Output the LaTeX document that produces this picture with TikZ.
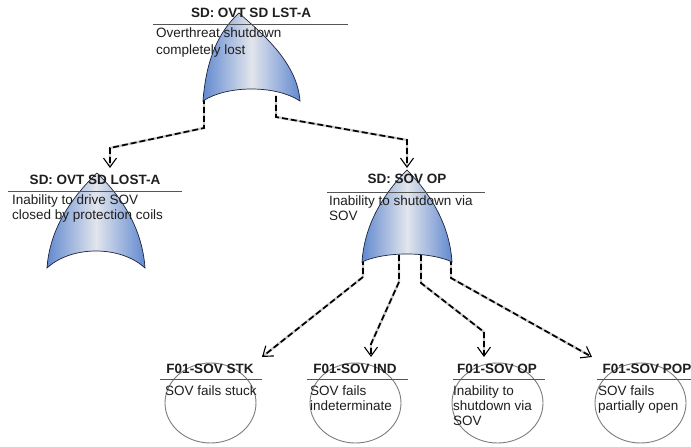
\documentclass[tikz,border=0pt]{standalone}
\usepackage{fontspec}
\setmainfont{Liberation Sans}
\usetikzlibrary{arrows.meta,shapes.geometric}
\definecolor{gateblue}{RGB}{98,138,208}
\definecolor{gatelight}{RGB}{226,229,236}
\definecolor{gateline}{RGB}{30,35,60}
\definecolor{txt}{RGB}{30,30,30}
\definecolor{rulegray}{RGB}{85,85,85}
\definecolor{circgray}{RGB}{125,125,125}
\tikzset{
  ttl/.style={font=\fontsize{13.5bp}{15bp}\selectfont\bfseries, text=txt, inner sep=0pt, anchor=base},
  dsc/.style={font=\fontsize{13.5bp}{15bp}\selectfont, text=txt, inner sep=0pt, anchor=base west},
  rul/.style={draw=rulegray, line width=0.8bp},
  evt/.style={draw=circgray, line width=0.9bp, ellipse, minimum width=91bp, minimum height=80bp, inner sep=0pt},
  connbg/.style={draw=gray!40, line width=2.4bp},
  conn/.style={draw=black, line width=1.7bp, dash pattern=on 6bp off 3bp,
    -{Straight Barb[length=9bp,width=13bp,line width=1.1bp]}},
}
\newcommand{\txtlines}[1]{\begin{tabular}[t]{@{}l@{}}#1\end{tabular}}
\newcommand{\orgate}[7]{% name, xa, ya, xl, xr, yb, sag
  \pgfmathsetmacro\gw{#5-#4}\pgfmathsetmacro\gh{#6-#3}
  \shadedraw[left color=gateblue, right color=gateblue, middle color=gatelight, draw=gateline, line width=0.7bp]
    (#4,#6) .. controls ({#4+0.03*\gw},{#6-0.45*\gh}) and ({#2-0.22*\gw},{#3+0.22*\gh}) .. (#2,#3)
    .. controls ({#2+0.22*\gw},{#3+0.22*\gh}) and ({#5-0.03*\gw},{#6-0.45*\gh}) .. (#5,#6)
    .. controls ({#4+0.75*\gw},{#6-4/3*#7}) and ({#4+0.25*\gw},{#6-4/3*#7}) .. cycle;
  \coordinate (#1) at (#2,#3);
}
\begin{document}
\begin{tikzpicture}[x=1bp,y=-1bp]
\useasboundingbox (0,0) rectangle (691,447);
\fill[white] (0,0) rectangle (691,447);

% gate output / input points
\coordinate (g0a) at (204,98);
\coordinate (g0b) at (276,96);
\coordinate (g0aj) at (204,128);
\coordinate (g0ak) at (110,148);
\coordinate (g1in) at (110,168);
\coordinate (g0bj) at (276,117);
\coordinate (g0bk) at (407,140);
\coordinate (g2in) at (407,168);

\coordinate (g2a) at (363,259);
\coordinate (g2b) at (399,255);
\coordinate (g2c) at (421,255);
\coordinate (g2d) at (451,259);
\coordinate (g2aj) at (363,277);
\coordinate (g2bj) at (399,282);
\coordinate (g2bk) at (371,344);
\coordinate (g2cj) at (421,283);
\coordinate (g2ck) at (484,332);
\coordinate (g2dj) at (451,278);
\coordinate (e1in) at (262,357);
\coordinate (e2in) at (371,357);
\coordinate (e3in) at (484,357);
\coordinate (e4in) at (592,357);

% connectors
\foreach \p in {
  {(g0a) -- (g0aj) -- (g0ak) -- (g1in)},
  {(g0b) -- (g0bj) -- (g0bk) -- (g2in)},
  {(g2a) -- (g2aj) -- (e1in)},
  {(g2b) -- (g2bj) -- (g2bk) -- (e2in)},
  {(g2c) -- (g2cj) -- (g2ck) -- (e3in)},
  {(g2d) -- (g2dj) -- (e4in)}}{
  \draw[connbg, shorten >=3bp] \p;
}
\draw[conn] (g0a) -- (g0aj) -- (g0ak) -- (g1in);
\draw[conn] (g0b) -- (g0bj) -- (g0bk) -- (g2in);
\draw[conn] (g2a) -- (g2aj) -- (e1in);
\draw[conn] (g2b) -- (g2bj) -- (g2bk) -- (e2in);
\draw[conn] (g2c) -- (g2cj) -- (g2ck) -- (e3in);
\draw[conn] (g2d) -- (g2dj) -- (e4in);

% gates
\orgate{g0}{239}{13}{203}{300}{101}{12}
\orgate{g1}{97}{173}{47}{145}{268}{17}
\orgate{g2}{407}{170}{362}{452}{262}{8}

% basic events
\node[evt] (e1) at (210.5,403) {};
\node[evt] (e2) at (355.5,403) {};
\node[evt] (e3) at (497.5,403) {};
\node[evt] (e4) at (640.5,403) {};

% texts
\node[ttl] (t0) at (251,18) {SD: OVT SD LST-A};
\draw[rul] (153,24) -- (348,24);
\node[dsc] (d0) at (156,38) {\txtlines{Overthreat shutdown\\[2bp]completely lost}};

\node[ttl] (t1) at (95,185) {SD: OVT SD LOST-A};
\draw[rul] (8,191) -- (182,191);
\node[dsc] (d1) at (12,205) {\txtlines{Inability to drive SOV\\closed by protection coils}};

\node[ttl] (t2) at (407,184) {SD: SOV OP};
\draw[rul] (327,192) -- (485,192);
\node[dsc] (d2) at (329,206) {\txtlines{Inability to shutdown via\\SOV}};

\node[ttl] (t3) at (210,373) {F01-SOV STK};
\draw[rul] (160,379) -- (262,379);
\node[dsc] (d3) at (165,395) {SOV fails stuck};

\node[ttl] (t4) at (355,373) {F01-SOV IND};
\draw[rul] (307,379) -- (408,379);
\node[dsc] (d4) at (310,395) {\txtlines{SOV fails\\indeterminate}};

\node[ttl] (t5) at (497,373) {F01-SOV OP};
\draw[rul] (453,379) -- (545,379);
\node[dsc] (d5) at (453,395) {\txtlines{Inability to\\shutdown via\\SOV}};

\node[ttl] (t6) at (647,373) {F01-SOV POP};
\draw[rul] (597,379) -- (695,379);
\node[dsc] (d6) at (598,395) {\txtlines{SOV fails\\partially open}};
\end{tikzpicture}
\end{document}
